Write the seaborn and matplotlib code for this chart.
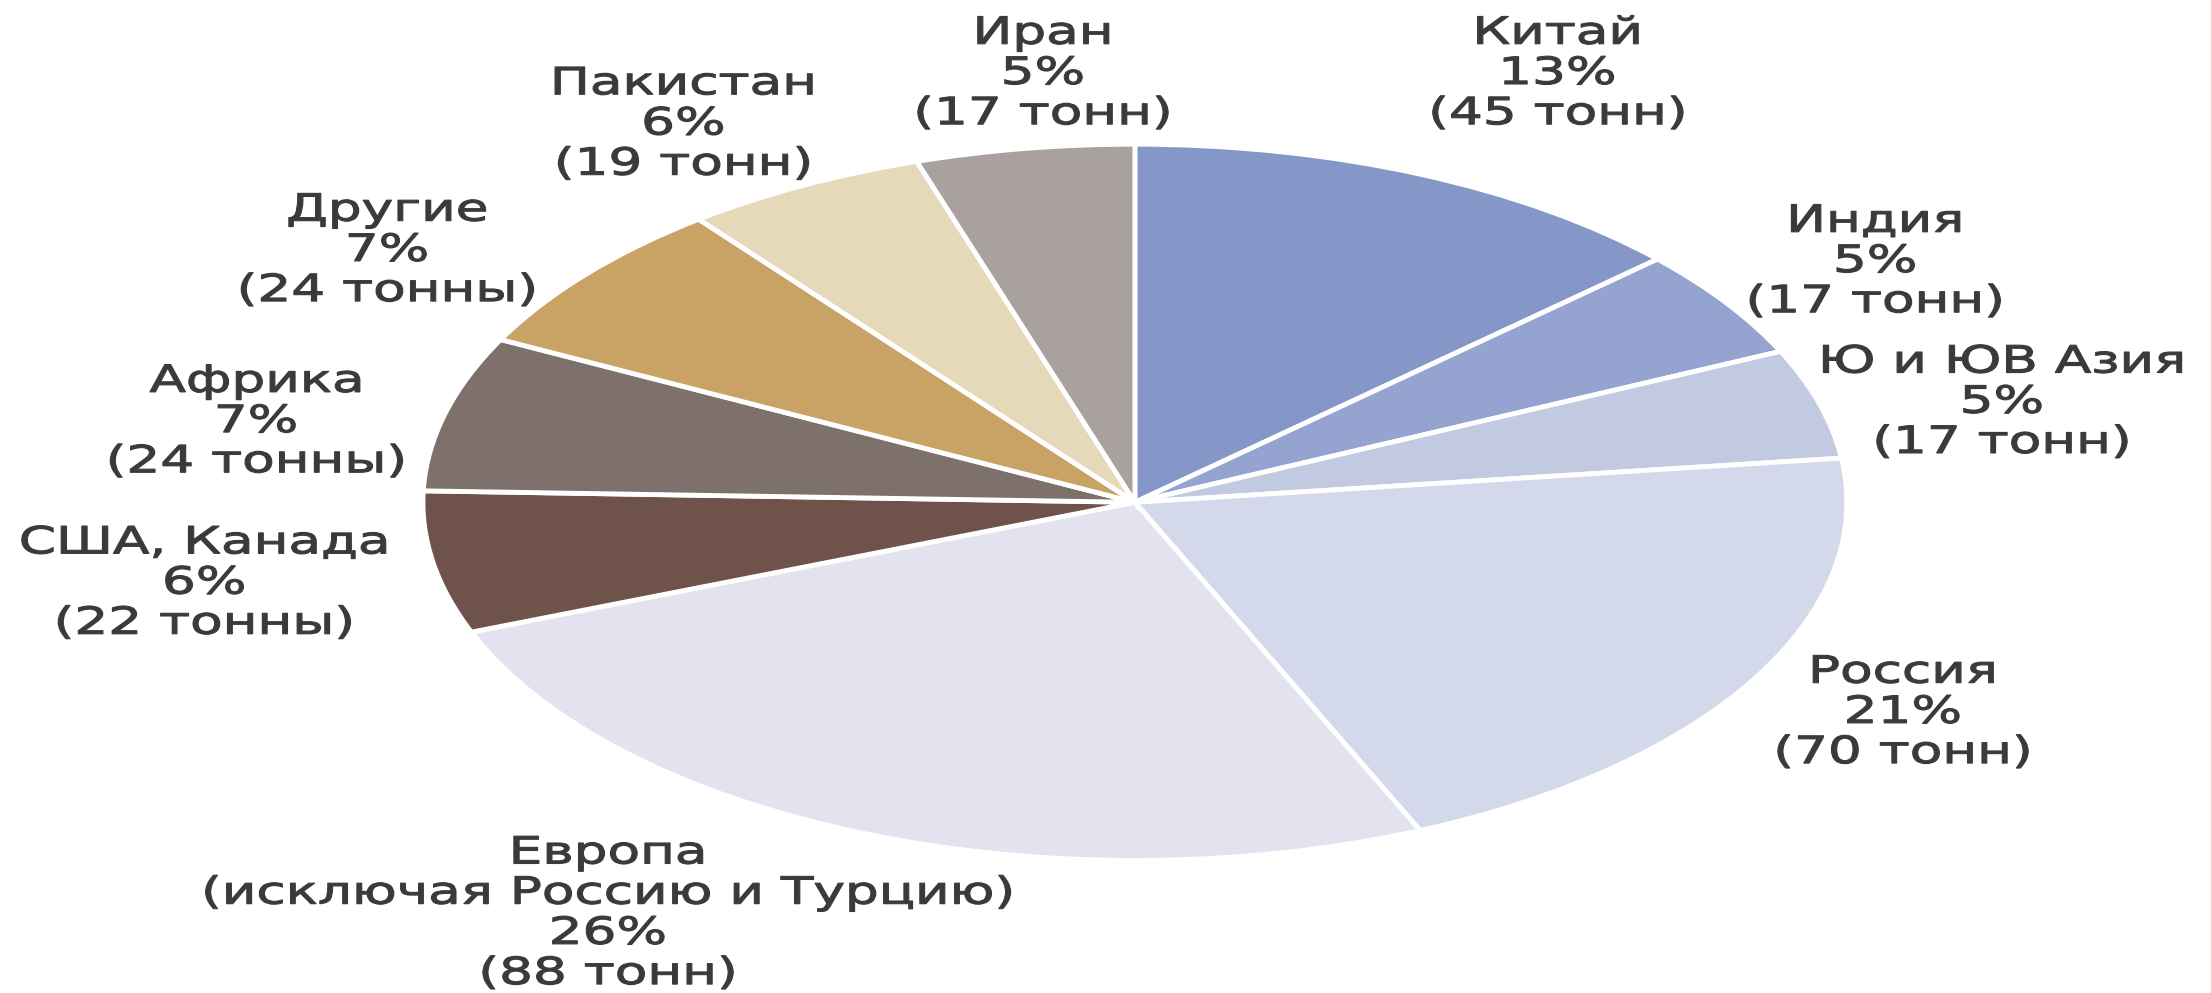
import matplotlib
matplotlib.use("Agg")
import matplotlib.pyplot as plt
import matplotlib.patheffects as pe
from matplotlib.transforms import Affine2D
import seaborn as sns

# data, clockwise from 12 o'clock
regions = ["Китай", "Индия", "Ю и ЮВ Азия", "Россия",
           "Европа\n(исключая Россию и Турцию)", "США, Канада",
           "Африка", "Другие", "Пакистан", "Иран"]
tonnes = [45, 17, 17, 70, 88, 22, 24, 24, 19, 17]
percents = [13, 5, 5, 21, 26, 6, 7, 7, 6, 5]
units = ["тонн", "тонн", "тонн", "тонн", "тонн", "тонны",
         "тонны", "тонны", "тонн", "тонн"]

colors = ["#8497c8", "#94a3d0", "#c2cae1", "#d3d9ea", "#e2e3ee",
          "#6f5249", "#7e716b", "#c9a265", "#e6d9ba", "#a9a19d"]

# where each label sits (axes data units, pie radius = 1)
label_pos = [(0.594, 1.196), (1.04, 0.671), (1.218, 0.278), (1.079, -0.588),
             (-0.74, -1.149), (-1.307, -0.227), (-1.234, 0.224),
             (-1.05, 0.702), (-0.634, 1.055), (-0.129, 1.196)]


class Stretch(pe.AbstractPathEffect):
    # widen each text line around its own centre (source font is very wide)
    def __init__(self, sx, lw=1.0):
        super().__init__()
        self.sx = sx
        self.lw = lw

    def draw_path(self, renderer, gc, tpath, affine, rgbFace=None):
        bb = tpath.get_extents(affine)
        cx = (bb.x0 + bb.x1) / 2
        stretched = affine + Affine2D().translate(-cx, 0).scale(self.sx, 1).translate(cx, 0)
        gc0 = renderer.new_gc()
        gc0.copy_properties(gc)
        gc0.set_linewidth(self.lw)
        gc0.set_foreground(rgbFace)
        renderer.draw_path(gc0, tpath, stretched, rgbFace)
        gc0.restore()


sns.set_style("white")
plt.rcParams["font.family"] = ["DejaVu Sans"]

fig = plt.figure(figsize=(22.11, 9.93), dpi=100)
ax = fig.add_axes([0.1913, 0.1335, 0.644, 0.7213])

wedges, _ = ax.pie(tonnes, colors=colors, startangle=90, counterclock=False,
                   wedgeprops=dict(edgecolor="white", linewidth=3.5))
ax.set_aspect("auto")
ax.set_xlim(-1, 1)
ax.set_ylim(-1, 1)
ax.axis("off")

for name, pct, t, u, (x, y) in zip(regions, percents, tonnes, units, label_pos):
    ax.text(x, y, f"{name}\n{pct}%\n({t} {u})", ha="center", va="center",
            fontsize=27, color="#3a3a3a", linespacing=1.15, clip_on=False,
            path_effects=[Stretch(1.42, 0.8)])

fig.savefig("out.png", dpi=100)
